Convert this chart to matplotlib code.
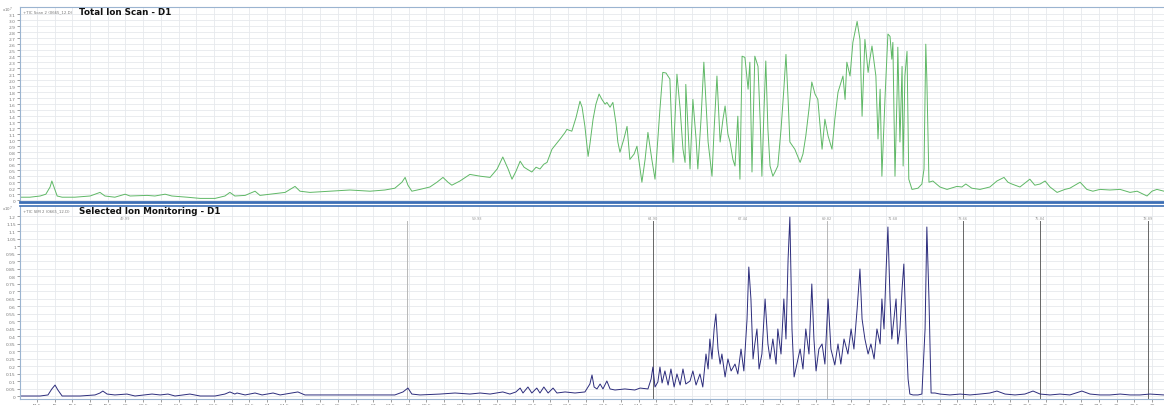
import matplotlib
matplotlib.use("Agg")
import matplotlib.pyplot as plt
import numpy as np

# ---------------- data ----------------
tic_time = [47.02, 47.30, 47.59, 47.75, 47.87, 47.92, 47.98, 48.07, 48.21, 48.57, 49.00, 49.28, 49.42, 49.70,
            49.99, 50.13, 50.61, 50.83, 51.12, 51.31, 51.74, 52.11, 52.53, 52.81, 52.95, 53.09, 53.38, 53.66,
            53.80, 54.08, 54.51, 54.79, 54.93, 55.21, 55.78, 56.34, 56.91, 57.33, 57.61, 57.81, 57.90, 57.98,
            58.09, 58.32, 58.60, 58.80, 58.97, 59.11, 59.22, 59.45, 59.73, 60.02, 60.30, 60.50, 60.66, 60.81,
            60.92, 61.03, 61.15, 61.26, 61.34, 61.48, 61.60, 61.71, 61.82, 61.91, 62.05, 62.16, 62.28, 62.42,
            62.47, 62.61, 62.73, 62.84, 62.90, 62.98, 63.07, 63.12, 63.21, 63.29, 63.38, 63.46, 63.55, 63.60,
            63.69, 63.77, 63.86, 63.91, 63.97, 64.08, 64.17, 64.25, 64.37, 64.45, 64.54, 64.59, 64.68, 64.76,
            64.87, 64.96, 65.04, 65.10, 65.18, 65.27, 65.38, 65.47, 65.58, 65.67, 65.75, 65.81, 65.83, 65.95,
            66.03, 66.12, 66.17, 66.26, 66.34, 66.46, 66.57, 66.63, 66.71, 66.80, 66.88, 66.94, 67.02, 67.08,
            67.16, 67.22, 67.30, 67.36, 67.42, 67.50, 67.59, 67.64, 67.70, 67.78, 67.87, 67.93, 67.98, 68.04,
            68.09, 68.15, 68.21, 68.29, 68.35, 68.43, 68.52, 68.60, 68.66, 68.72, 68.77, 68.91, 69.06, 69.14,
            69.22, 69.31, 69.39, 69.48, 69.56, 69.68, 69.76, 69.85, 69.96, 70.04, 70.13, 70.27, 70.33, 70.38,
            70.47, 70.55, 70.67, 70.75, 70.81, 70.89, 70.98, 71.03, 71.09, 71.20, 71.26, 71.32, 71.37, 71.46,
            71.54, 71.60, 71.65, 71.68, 71.74, 71.80, 71.82, 71.88, 71.94, 71.97, 72.02, 72.08, 72.13, 72.22,
            72.39, 72.50, 72.56, 72.61, 72.64, 72.67, 72.70, 72.81, 73.01, 73.21, 73.49, 73.63, 73.74, 73.91,
            74.14, 74.42, 74.62, 74.82, 74.93, 75.04, 75.27, 75.55, 75.69, 75.84, 75.98, 76.12, 76.32, 76.54,
            76.68, 76.97, 77.16, 77.33, 77.53, 77.81, 78.10, 78.38, 78.58, 78.86, 79.00, 79.14, 79.34]
tic_abund = [0.05, 0.05, 0.07, 0.10, 0.22, 0.32, 0.22, 0.07, 0.05, 0.05, 0.07, 0.13, 0.07, 0.05,
             0.10, 0.07, 0.08, 0.07, 0.10, 0.07, 0.05, 0.03, 0.03, 0.07, 0.13, 0.07, 0.08, 0.15,
             0.08, 0.10, 0.13, 0.23, 0.15, 0.13, 0.15, 0.17, 0.15, 0.17, 0.20, 0.30, 0.38, 0.25,
             0.15, 0.18, 0.22, 0.30, 0.38, 0.30, 0.25, 0.32, 0.43, 0.40, 0.38, 0.52, 0.72, 0.52,
             0.35, 0.48, 0.65, 0.55, 0.52, 0.47, 0.55, 0.52, 0.60, 0.63, 0.85, 0.93, 1.02, 1.13,
             1.18, 1.15, 1.38, 1.65, 1.55, 1.23, 0.73, 0.93, 1.35, 1.60, 1.77, 1.68, 1.60, 1.63,
             1.55, 1.63, 1.27, 0.97, 0.80, 1.02, 1.23, 0.68, 0.77, 0.90, 0.52, 0.30, 0.68, 1.13,
             0.68, 0.35, 1.02, 1.52, 2.13, 2.12, 2.02, 0.63, 2.10, 1.52, 0.85, 0.63, 1.93, 0.52,
             1.68, 1.02, 0.52, 1.35, 2.30, 0.97, 0.40, 1.18, 2.07, 0.97, 1.35, 1.57, 1.10, 0.97,
             0.68, 0.57, 1.40, 0.35, 2.40, 2.38, 1.85, 2.30, 0.47, 2.40, 2.23, 1.35, 0.40, 1.52,
             2.32, 1.18, 0.57, 0.40, 0.47, 0.57, 1.18, 1.85, 2.43, 1.68, 0.97, 0.85, 0.63, 0.77,
             1.07, 1.52, 1.97, 1.77, 1.68, 0.85, 1.35, 1.07, 0.85, 1.35, 1.80, 2.07, 1.68, 2.30,
             2.07, 2.63, 2.98, 2.68, 1.40, 2.68, 2.13, 2.35, 2.57, 2.07, 1.02, 1.85, 0.40, 1.73,
             2.77, 2.73, 2.35, 2.63, 0.40, 1.80, 2.55, 0.97, 2.23, 0.57, 2.07, 2.48, 0.35, 0.18,
             0.20, 0.27, 0.52, 2.60, 2.02, 1.13, 0.30, 0.32, 0.22, 0.18, 0.23, 0.22, 0.27, 0.20,
             0.18, 0.22, 0.32, 0.38, 0.30, 0.27, 0.22, 0.35, 0.25, 0.27, 0.32, 0.22, 0.13, 0.18,
             0.20, 0.30, 0.18, 0.15, 0.18, 0.17, 0.18, 0.13, 0.15, 0.07, 0.15, 0.18, 0.15]

sim_time = [47.02, 47.59, 47.81, 47.92, 48.01, 48.09, 48.21, 48.72, 49.14, 49.28, 49.36, 49.48, 49.70, 50.04,
            50.27, 50.75, 50.98, 51.20, 51.40, 51.82, 52.11, 52.53, 52.81, 52.95, 53.09, 53.15, 53.38, 53.66,
            53.86, 54.17, 54.37, 54.87, 55.07, 55.78, 56.34, 57.19, 57.61, 57.84, 57.98, 58.09, 58.32, 58.89,
            59.31, 59.73, 60.02, 60.30, 60.66, 60.86, 61.03, 61.15, 61.23, 61.37, 61.48, 61.62, 61.71, 61.82,
            61.94, 62.08, 62.19, 62.42, 62.70, 62.98, 63.12, 63.18, 63.24, 63.32, 63.41, 63.49, 63.60, 63.69,
            63.83, 64.11, 64.39, 64.54, 64.76, 64.85, 64.90, 64.96, 65.04, 65.10, 65.16, 65.24, 65.33, 65.41,
            65.50, 65.58, 65.67, 65.75, 65.83, 65.95, 66.03, 66.12, 66.23, 66.31, 66.40, 66.46, 66.51, 66.57,
            66.63, 66.68, 66.74, 66.80, 66.85, 66.94, 67.02, 67.11, 67.22, 67.30, 67.39, 67.47, 67.56, 67.61,
            67.67, 67.73, 67.78, 67.84, 67.90, 67.98, 68.07, 68.15, 68.21, 68.29, 68.38, 68.43, 68.52, 68.60,
            68.66, 68.72, 68.77, 68.83, 68.89, 68.97, 69.06, 69.14, 69.22, 69.31, 69.39, 69.45, 69.51, 69.59,
            69.68, 69.76, 69.85, 69.93, 70.04, 70.13, 70.21, 70.30, 70.41, 70.50, 70.58, 70.67, 70.75, 70.81,
            70.89, 70.98, 71.06, 71.15, 71.23, 71.32, 71.37, 71.43, 71.49, 71.54, 71.60, 71.65, 71.71, 71.77,
            71.82, 71.88, 71.94, 71.99, 72.05, 72.11, 72.16, 72.25, 72.39, 72.50, 72.59, 72.64, 72.70, 72.76,
            72.87, 73.01, 73.29, 73.58, 73.86, 74.14, 74.42, 74.62, 74.85, 75.13, 75.41, 75.64, 75.84, 76.12,
            76.40, 76.68, 77.02, 77.25, 77.53, 77.81, 78.10, 78.38, 78.66, 78.94, 79.34]
sim_abund = [0.000, 0.000, 0.007, 0.047, 0.073, 0.040, 0.000, 0.000, 0.007, 0.020, 0.033, 0.013, 0.007, 0.013,
             0.000, 0.013, 0.007, 0.013, 0.000, 0.013, 0.000, 0.000, 0.013, 0.027, 0.013, 0.020, 0.007, 0.020,
             0.007, 0.020, 0.007, 0.027, 0.007, 0.007, 0.007, 0.007, 0.007, 0.027, 0.053, 0.013, 0.007, 0.013,
             0.020, 0.013, 0.020, 0.013, 0.027, 0.013, 0.027, 0.053, 0.020, 0.060, 0.020, 0.053, 0.020, 0.060,
             0.020, 0.053, 0.020, 0.027, 0.020, 0.027, 0.080, 0.140, 0.060, 0.047, 0.080, 0.047, 0.100, 0.047,
             0.040, 0.047, 0.040, 0.053, 0.047, 0.113, 0.193, 0.060, 0.093, 0.193, 0.087, 0.167, 0.073, 0.180,
             0.060, 0.147, 0.073, 0.180, 0.080, 0.100, 0.167, 0.073, 0.147, 0.060, 0.280, 0.180, 0.380, 0.247,
             0.447, 0.547, 0.313, 0.213, 0.280, 0.127, 0.247, 0.167, 0.213, 0.147, 0.313, 0.167, 0.513, 0.860,
             0.647, 0.247, 0.347, 0.447, 0.180, 0.280, 0.647, 0.347, 0.247, 0.380, 0.213, 0.447, 0.280, 0.647,
             0.380, 0.913, 1.193, 0.447, 0.127, 0.213, 0.313, 0.180, 0.447, 0.280, 0.747, 0.380, 0.167, 0.313,
             0.347, 0.213, 0.647, 0.313, 0.207, 0.347, 0.213, 0.380, 0.280, 0.447, 0.313, 0.580, 0.847, 0.513,
             0.380, 0.280, 0.347, 0.247, 0.447, 0.347, 0.647, 0.447, 0.847, 1.127, 0.647, 0.380, 0.513, 0.647,
             0.347, 0.447, 0.713, 0.880, 0.447, 0.113, 0.013, 0.007, 0.007, 0.013, 0.447, 1.127, 0.647, 0.020,
             0.020, 0.013, 0.007, 0.013, 0.007, 0.013, 0.020, 0.033, 0.013, 0.007, 0.013, 0.033, 0.013, 0.007,
             0.013, 0.007, 0.033, 0.013, 0.007, 0.007, 0.013, 0.007, 0.007, 0.013, 0.007]

marker_line_times = [57.96, 64.90, 69.82, 73.66, 75.84, 78.89]
marker_line_dark = [False, True, False, True, True, True]
marker_label_times = [49.99, 59.93, 64.90, 67.44, 69.82, 71.68, 73.66, 75.84, 78.89]
marker_labels = ["49.99", "59.93", "64.90", "67.44", "69.82", "71.68", "73.66", "75.84", "78.89"]

tic_yticks = [round(0.1 * i, 1) for i in range(32)]
sim_yticks = [round(0.05 * i, 2) for i in range(25)]
x_ticks = [47.5 + 0.5 * i for i in range(64)]

# ---------------- figure ----------------
W, H = 1164, 406
fig = plt.figure(figsize=(W / 100, H / 100), dpi=100)
fig.patch.set_facecolor("white")

ax1 = fig.add_axes([20 / W, 1 - 203 / H, 1144 / W, 195 / H])
ax2 = fig.add_axes([20 / W, 1 - 400 / H, 1144 / W, 193 / H])

grid_c = "#e6e9ed"
for ax in (ax1, ax2):
    ax.set_xlim(47.02, 79.34)
    ax.set_xticks(x_ticks)
    ax.grid(True, color=grid_c, lw=0.6)
    ax.set_axisbelow(True)
    for s in ax.spines.values():
        s.set_color("#9bb4d0")
        s.set_linewidth(0.8)
    ax.spines["right"].set_visible(False)
    ax.tick_params(axis="y", direction="out", length=2, width=0.5, pad=1,
                   labelsize=3.2, colors="#777777")
    ax.tick_params(axis="x", direction="out", length=2, width=0.5, pad=1,
                   labelsize=3.2, colors="#777777")

# Top panel
ax1.plot(tic_time, tic_abund, color="#5fb866", lw=0.7)
ax1.set_ylim(-0.03, 3.22)
ax1.set_yticks(tic_yticks)
ax1.set_yticklabels(["0" if v == 0 else f"{v:.1f}" for v in tic_yticks])
ax1.tick_params(axis="x", labelbottom=False, length=0)
ax1.spines["bottom"].set_color("#3d6fb5")
ax1.spines["bottom"].set_linewidth(2.0)
ax1.text(0.052, 0.975, "Total Ion Scan - D1", transform=ax1.transAxes, fontsize=6.3,
         fontweight="bold", va="center", ha="left", color="#111111")
ax1.text(0.003, 0.975, "+TIC Scan 2 (0665_12.D)", transform=ax1.transAxes, fontsize=2.8,
         va="center", ha="left", color="#777777")
fig.text(2 / W, 1 - 10 / H, "x10$^{7}$", fontsize=2.8, color="#777777", va="center", ha="left")

# Bottom panel
ax2.plot(sim_time, sim_abund, color="#2c2c7c", lw=0.7)
ax2.set_ylim(-0.02, 1.267)
ax2.set_yticks(sim_yticks)
ax2.set_yticklabels(["0" if v == 0 else f"{v:g}" for v in sim_yticks])
ax2.set_xticklabels([f"{v:g}" for v in x_ticks])
ax2.spines["top"].set_color("#3d6fb5")
ax2.spines["top"].set_linewidth(1.2)
for t, dark in zip(marker_line_times, marker_line_dark):
    ax2.axvline(t, ymin=0.0, ymax=0.92, color="#666666" if dark else "#b8b8b8", lw=0.7, zorder=1.5)
for t, lab in zip(marker_label_times, marker_labels):
    ax2.text(t, 0.94, lab, transform=ax2.get_xaxis_transform(), fontsize=2.6,
             color="#999999", ha="center", va="center")
ax2.text(0.052, 0.978, "Selected Ion Monitoring - D1", transform=ax2.transAxes, fontsize=6.3,
         fontweight="bold", va="center", ha="left", color="#111111")
ax2.text(0.003, 0.978, "+TIC SIM 2 (0665_12.D)", transform=ax2.transAxes, fontsize=2.8,
         va="center", ha="left", color="#777777")
fig.text(2 / W, 1 - 209 / H, "x10$^{7}$", fontsize=2.8, color="#777777", va="center", ha="left")

fig.savefig("out.png", dpi=100, facecolor="white")
